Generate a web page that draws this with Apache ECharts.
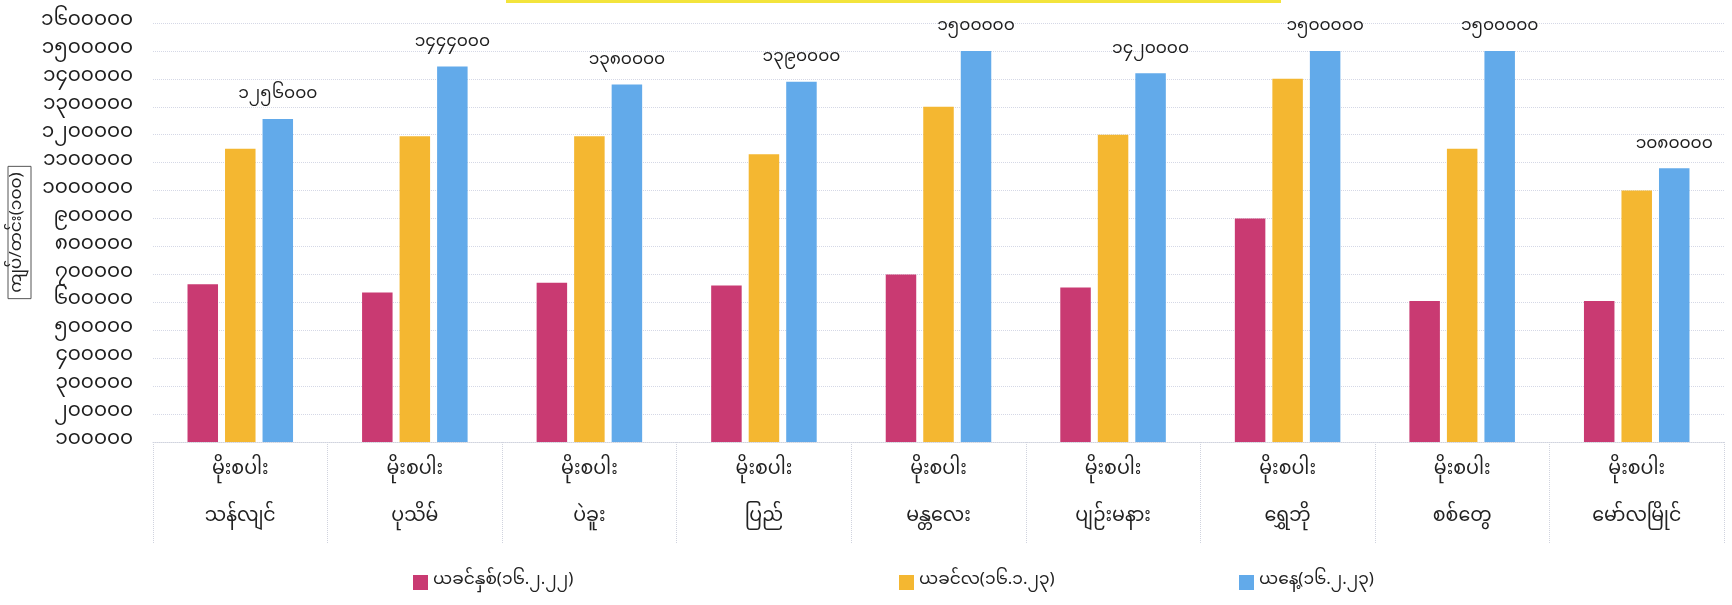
<!DOCTYPE html>
<html>
<head>
<meta charset="utf-8">
<script src="https://cdn.jsdelivr.net/npm/echarts@6/dist/echarts.min.js"></script>
<style>
html,body{margin:0;padding:0;background:#fff;}
#main{width:1732px;height:605px;}
</style>
</head>
<body>
<div id="main"></div>
<script>
var categories = ['မိုးစပါး\nသန်လျင်','မိုးစပါး\nပုသိမ်','မိုးစပါး\nပဲခူး','မိုးစပါး\nပြည်','မိုးစပါး\nမန္တလေး','မိုးစပါး\nပျဉ်းမနား','မိုးစပါး\nရွှေဘို','မိုးစပါး\nစစ်တွေ','မိုးစပါး\nမော်လမြိုင်'];
var seriesNames = ['ယခင်နှစ်(၁၆.၂.၂၂)','ယခင်လ(၁၆.၁.၂၃)','ယနေ့(၁၆.၂.၂၃)'];
var lastYear = [665000, 635000, 670000, 660000, 700000, 653000, 900000, 605000, 605000];
var lastMonth = [1150000, 1195000, 1195000, 1130000, 1300000, 1200000, 1400000, 1150000, 1000000];
var today = [1256000, 1444000, 1380000, 1390000, 1500000, 1420000, 1500000, 1500000, 1080000];
var yMin = 100000, yMax = 1600000, yStep = 100000;
var myDigits = ['၀','၁','၂','၃','၄','၅','၆','၇','၈','၉'];
var yAxisName = 'ကျပ်/တင်း(၁၀၀)';

function toMy(n){ return String(n).replace(/[0-9]/g, function(d){ return myDigits[+d]; }); }

var FONT = '"Noto Sans Myanmar","Padauk","Myanmar Text","Myanmar3","Noto Sans",sans-serif';
var colors = ['#c93a72','#f4b731','#62aaea'];

var chart = echarts.init(document.getElementById('main'));
var legendLefts = [408, 894, 1234];
chart.setOption({
  animation:false,
  textStyle:{fontFamily:FONT},
  color: colors,
  graphic:[{type:'rect', left:506, top:0, shape:{width:775, height:3}, style:{fill:'#f3e43c'}}],
  legend: seriesNames.map(function(n,i){
    return {data:[n], left:legendLefts[i], top:569, icon:'rect', itemWidth:15, itemHeight:15, itemGap:6,
      textStyle:{fontSize:17, color:'#222', fontFamily:FONT}};
  }),
  grid:{left:153, right:8, top:23, bottom:163, containLabel:false, outerBoundsMode:'none'},
  xAxis:{
    type:'category', data:categories,
    axisLine:{show:true, lineStyle:{color:'#d0d3de', type:'dotted'}},
    axisTick:{show:true, interval:0, length:102, lineStyle:{color:'#d0d3de', type:'dotted'}},
    axisLabel:{interval:0, margin:6, fontSize:19, lineHeight:47, color:'#222', fontFamily:FONT}
  },
  yAxis:{
    type:'value', min:yMin, max:yMax, interval:yStep,
    name:yAxisName, nameLocation:'middle', nameRotate:90, nameGap:122, nameMoveOverlap:false,
    nameTextStyle:{fontSize:17, color:'#222', borderColor:'#555', borderWidth:1, padding:[3,6,3,6], fontFamily:FONT},
    axisLine:{show:false}, axisTick:{show:false},
    axisLabel:{fontSize:20, color:'#1e1e1e', margin:20, fontFamily:FONT, formatter:function(v){return toMy(v);}},
    splitLine:{lineStyle:{color:'#d5d8e6', type:'dotted'}}
  },
  series:[
    {name:seriesNames[0], type:'bar', data:lastYear, barWidth:30.5, barGap:'23%'},
    {name:seriesNames[1], type:'bar', data:lastMonth, barWidth:30.5, barGap:'23%'},
    {name:seriesNames[2], type:'bar', data:today, barWidth:30.5, barGap:'23%',
      label:{show:true, position:'top', distance:14, fontSize:17, color:'#1e1e1e', fontFamily:FONT,
        formatter:function(p){return toMy(p.value);}}}
  ]
});
</script>
</body>
</html>
